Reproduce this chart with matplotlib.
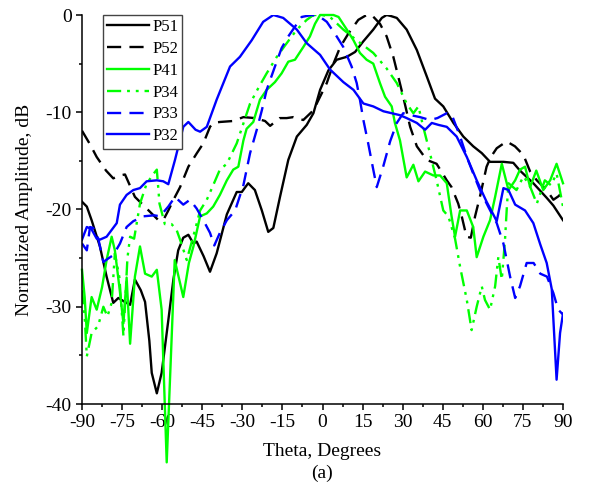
import matplotlib
matplotlib.use("Agg")
import matplotlib.pyplot as plt
from matplotlib.ticker import MultipleLocator

# Digitized pattern cuts (theta in degrees, amplitude in dB)
th51 = [-90, -88.2, -86.4, -83.3, -80.8, -78.3, -76.4, -74, -72, -70.2, -68, -66.4, -64.8, -63.9, -62,
        -60.2, -57.7, -55.8, -54, -52.1, -50.2, -48.3, -47.1, -44.5, -42.1, -39.6, -35.8, -32.1, -30.2, -27.8,
        -25.3, -22.7, -20.3, -18.4, -15.9, -12.8, -9.6, -5.9, -3.4, -0.9, 2.2, 5.3, 9.1, 12.2, 15.3,
        19, 22.2, 24, 25.5, 27.8, 31.5, 35.3, 39, 42.1, 45.2, 49, 52.7, 56.4, 59.6, 62.7,
        67.7, 71.4, 73.9, 78.9, 83.9, 86.4, 90]
p51 = [-19.2, -19.7, -21.1, -23.8, -26.9, -29.6, -29.1, -29.5, -29.8, -27.2, -28.3, -29.5, -33.5, -36.8, -38.9,
       -36.8, -31.4, -27.2, -24.2, -22.9, -22.6, -23.5, -23.3, -24.8, -26.4, -24.5, -20.5, -18.2, -18.2, -17.3,
       -18.0, -20.1, -22.3, -21.9, -18.7, -14.9, -12.5, -11.3, -10.1, -7.7, -5.7, -4.6, -4.3, -3.8, -2.7,
       -1.5, -0.3, 0, -0.1, -0.3, -1.5, -3.6, -6.3, -8.6, -9.4, -11.1, -12.5, -13.5, -14.2, -15.1,
       -15.1, -15.2, -16.0, -17.3, -18.8, -19.6, -21.1]

th52 = [-90, -87, -84.5, -81, -78.3, -76, -73.9, -70.2, -65.8, -61.4, -59.6, -57.7, -55.2, -53.3, -50.2,
        -47, -44.6, -42.1, -40.9, -38.4, -33.4, -29.6, -25.3, -21.5, -19.6, -16, -13.4, -10.9, -7.2, -3.4,
        -0.9, 1.6, 4.1, 6.6, 9.7, 13.4, 16.5, 18.4, 21.5, 24, 26.5, 28.5, 30.2, 32.8, 35.3,
        39, 42.7, 46.5, 48.3, 50.8, 52.1, 53.9, 55.5, 57.1, 58.9, 61.4, 63, 65.2, 68.9, 72,
        75.2, 77.7, 80.2, 83.9, 86.4, 88.5, 90]
p52 = [-11.9, -13.3, -14.6, -16.0, -16.8, -16.5, -16.4, -18.7, -19.9, -21.1, -21.1, -20.1, -18.7, -17.7, -15.6,
       -14.2, -13.2, -11.5, -11.1, -11.0, -10.9, -10.5, -10.6, -10.9, -11.4, -10.6, -10.6, -10.5, -10.8, -9.8,
       -8.4, -7.0, -5.0, -3.3, -1.9, -0.5, 0, 0, -0.9, -2.2, -4.3, -6.5, -8.4, -11.5, -13.5,
       -14.9, -15.3, -17.0, -17.7, -19.4, -20.7, -22.8, -22.9, -20.7, -18.7, -15.6, -14.6, -13.7, -13.0, -13.5,
       -14.4, -16.1, -17.0, -18.0, -19.0, -18.6, -18.0]

th41 = [-90, -89, -88.2, -86.4, -84.5, -82.5, -80.8, -78.9, -77.7, -76, -74.5, -73.3, -72, -70.2, -68.3,
        -66.4, -63.9, -62, -60.2, -58.3, -55.3, -52.1, -50, -48.3, -45.8, -43.3, -40.9, -38.4, -35.8, -33.4,
        -31.5, -29.6, -28.4, -25.9, -23.4, -20.9, -17.8, -15.3, -12.8, -10.3, -7.2, -4.7, -2.8, -0.9, 4.1,
        6, 9.1, 11.6, 14, 16.5, 19, 21.5, 23.4, 25.9, 27.1, 29, 31.5, 34, 35.9, 38.4,
        41.5, 44, 46.5, 48.3, 49.6, 51.5, 54, 56.4, 57.7, 60.2, 62.7, 64.6, 67.1, 69.6, 72.1,
        73.9, 75.8, 77.7, 80, 82.6, 85.2, 87.6, 90]
p41 = [-26.2, -29.0, -32.7, -29.0, -30.3, -28.0, -25.2, -22.8, -24.2, -28.0, -31.7, -27.0, -33.8, -26.9, -23.8,
       -26.6, -26.9, -26.2, -30.3, -46.0, -25.2, -29.0, -25.5, -23.8, -20.7, -20.4, -19.7, -18.5, -17.0, -15.9,
       -15.6, -12.9, -11.7, -11.0, -8.7, -7.7, -6.9, -6.0, -4.8, -4.6, -3.3, -2.2, -0.9, 0, 0,
       -0.2, -1.5, -2.6, -3.9, -4.6, -5.0, -7.0, -8.4, -9.4, -11.1, -12.9, -16.7, -15.4, -17.1, -16.1,
       -16.5, -16.5, -17.3, -20.7, -22.8, -20.1, -20.1, -21.8, -24.9, -22.8, -21.1, -18.7, -15.3, -18.0, -17.0,
       -15.9, -15.6, -17.7, -16.0, -18.0, -17.0, -15.3, -17.3]

th34 = [-90, -89, -88.2, -86.4, -84, -82, -80.5, -78.9, -77.7, -76, -74.5, -73, -72, -70.5, -68.3,
        -66, -64, -62, -61, -59, -56.5, -54.6, -53.3, -50.8, -47.7, -45.8, -43.3, -40.9, -38.4, -35.8,
        -32.1, -27.1, -24, -20.9, -17.1, -13.4, -9.6, -5.9, -3.4, 0, 2.8, 7.8, 12.8, 19, 24,
        27.8, 31.5, 34, 35.9, 37.7, 40.2, 42.7, 45.2, 47.1, 49.6, 51.5, 54, 55.8, 57.7, 59.6,
        60.8, 62.7, 64.6, 65.8, 67.1, 68.3, 69, 69.6, 72.6, 75.2, 77.5, 80.2, 83.2, 85.5, 87.6, 90]
p34 = [-28.3, -31.0, -35.1, -32.7, -32.0, -30.0, -31.0, -29.6, -24.5, -27.0, -33.0, -25.0, -22.8, -23.0, -19.4,
       -17.5, -16.6, -15.9, -19.4, -21.5, -21.5, -22.1, -23.1, -25.2, -22.1, -20.1, -19.0, -17.5, -15.9, -15.3,
       -13.2, -9.1, -7.5, -6.0, -4.3, -2.9, -1.5, -0.5, 0, 0, -0.2, -1.5, -2.6, -3.9, -5.5,
       -7.0, -9.1, -10.1, -9.4, -11.5, -14.2, -17.0, -20.1, -20.7, -23.0, -25.9, -29.3, -32.4, -30.0, -27.9,
       -29.3, -30.3, -27.9, -24.9, -27.2, -23.1, -19.7, -17.3, -18.0, -16.6, -17.5, -19.4, -17.0, -17.5, -16.3, -19.7]

th33 = [-90, -88.2, -87, -85.8, -83.9, -82, -80, -78.3, -75.8, -73.3, -70.8, -67, -63, -60.8, -57.7,
        -55.2, -52.1, -49.6, -47.1, -44.6, -42.1, -40.5, -38.4, -35.8, -32.7, -29.6, -27.1, -24.6, -22.7, -20.9,
        -17.8, -15.3, -12.8, -10.3, -7.8, -4, -0.9, 1.6, 5.3, 7.8, 10.9, 12.8, 14, 15.3, 17.1,
        19, 20.3, 22.8, 25.3, 27.8, 30.2, 33, 36.5, 40.2, 43, 46.5, 48.3, 51.5, 54, 56.4,
        58.9, 62, 65.2, 67.7, 70.2, 72.1, 73.9, 76.4, 79, 81.5, 84, 86.4, 88.2, 90]
p33 = [-23.5, -24.2, -21.8, -21.9, -23.0, -25.4, -25.0, -24.7, -23.5, -21.8, -21.2, -20.7, -20.6, -20.7, -19.7,
       -18.7, -19.5, -19.0, -19.9, -21.1, -22.4, -23.7, -22.4, -21.1, -20.1, -17.5, -14.2, -11.8, -9.8, -7.7,
       -5.3, -3.4, -2.2, -1.2, -0.2, 0, -0.2, -0.7, -2.2, -3.3, -5.3, -7.0, -8.7, -10.8, -13.2,
       -15.9, -17.7, -15.5, -13.0, -11.1, -10.1, -10.3, -10.5, -10.8, -10.6, -10.1, -10.2, -12.5, -14.6, -16.3,
       -18.0, -19.7, -21.4, -23.5, -26.9, -29.1, -27.9, -25.5, -25.5, -26.6, -26.9, -28.6, -30.3, -30.8]

th32 = [-90, -88.2, -86.5, -84.5, -83.3, -80.8, -77, -75.8, -73.3, -70.8, -68.3, -65.8, -62, -59.6, -57.7,
        -55.2, -52.1, -50.2, -47.5, -45.8, -43.3, -39.6, -34.6, -30.9, -26.5, -22.2, -18.4, -14.7, -9.6, -5.9,
        -0.9, 2.8, 7.8, 11.6, 15.3, 19, 22.8, 29, 31.5, 35.3, 38.4, 40.9, 43.4, 46.5, 50.2,
        54, 57.7, 61.4, 63.9, 65.2, 67.7, 69.6, 72.1, 75.8, 78.9, 81.5, 83.9, 85.8, 87.6, 88.9, 90]
p32 = [-23.1, -21.8, -22.0, -23.0, -23.1, -22.8, -21.4, -19.5, -18.5, -18.0, -17.8, -17.1, -17.0, -17.1, -17.4,
       -14.9, -11.5, -11.0, -11.8, -12.0, -11.5, -8.7, -5.3, -4.3, -2.6, -0.7, 0, -0.3, -1.5, -2.9,
       -4.1, -5.6, -6.9, -7.7, -9.1, -9.4, -9.9, -10.3, -10.6, -11.1, -11.8, -11.1, -11.3, -11.5, -12.5,
       -14.6, -17.0, -19.2, -20.5, -21.2, -17.8, -18.0, -19.5, -20.1, -21.4, -23.6, -25.5, -28.2, -37.5, -32.7, -30.7]

plt.rcParams['font.family'] = ['Liberation Serif', 'DejaVu Serif']
plt.rcParams['axes.unicode_minus'] = False

GREEN = '#00ff00'
BLUE = '#0000ff'
lw = 1.7
dash = (0, (6, 3.5))
dash_dot_dot = (0, (6, 2.5, 1.2, 2.5, 1.2, 2.5))

fig = plt.figure(figsize=(5.89, 4.90), dpi=100)
ax = fig.add_axes([82 / 589, 1 - 404 / 490, 481 / 589, 389 / 490])

ax.plot(th51, p51, color='black', lw=lw, label='P51')
ax.plot(th52, p52, color='black', lw=lw, ls=dash, label='P52')
# P41 null dips below -40 dB and is drawn past the axis in the original
ax.plot(th41, p41, color=GREEN, lw=lw, label='P41', clip_on=False)
ax.plot(th34, p34, color=GREEN, lw=lw, ls=dash_dot_dot, label='P34')
ax.plot(th33, p33, color=BLUE, lw=lw, ls=dash, label='P33')
ax.plot(th32, p32, color=BLUE, lw=lw, label='P32')

ax.set_xlim(-90, 90)
ax.set_ylim(-40, 0)
ax.xaxis.set_major_locator(MultipleLocator(15))
ax.xaxis.set_minor_locator(MultipleLocator(7.5))
ax.yaxis.set_major_locator(MultipleLocator(10))
ax.yaxis.set_minor_locator(MultipleLocator(5))

for side in ['top', 'right']:
    ax.spines[side].set_visible(False)
for side in ['left', 'bottom']:
    ax.spines[side].set_linewidth(1.1)

ax.tick_params(which='major', direction='out', length=4.5, width=1.1, labelsize=14, pad=3)
ax.tick_params(which='minor', direction='out', length=2.5, width=1.1)

ax.set_xlabel('Theta, Degrees', fontsize=14, labelpad=8)
ax.set_ylabel('Normalized Amplitude, dB', fontsize=14, labelpad=9)
fig.text(322 / 589, 1 - 473 / 490, '(a)', fontsize=14, ha='center', va='center')

leg = ax.legend(loc='upper left', bbox_to_anchor=((103 - 82) / 481, 1.0), borderaxespad=0,
                fontsize=12, handlelength=2.5, handletextpad=0.2, borderpad=0.25,
                labelspacing=0.35, fancybox=False, framealpha=1, edgecolor='#444444')
leg.get_frame().set_linewidth(1.0)

fig.savefig('out.png', dpi=100)
